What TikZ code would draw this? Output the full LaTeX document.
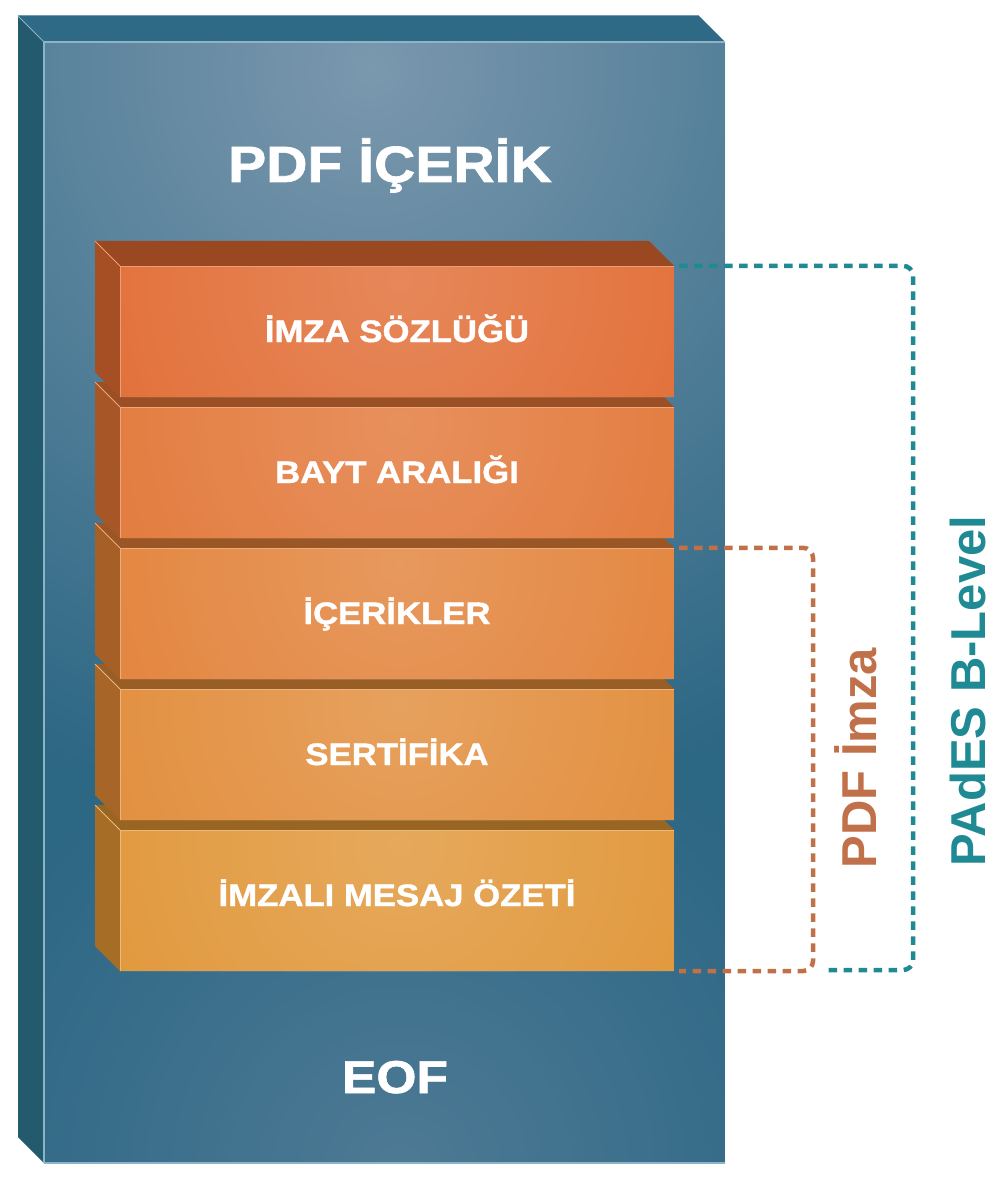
\documentclass[tikz,border=0pt]{standalone}
\usepackage{fontspec}
\usetikzlibrary{fadings}
\setmainfont{Liberation Sans}
\newfontfamily\wfont[FakeStretch=1.12,FakeBold=1.3]{Liberation Sans}
\definecolor{slabbase}{HTML}{2C6784}
\definecolor{slabhi}{HTML}{7B98AE}
\definecolor{slablow}{HTML}{4E7A95}
\definecolor{slabtop}{HTML}{2E6985}
\definecolor{slableft}{HTML}{235A6E}
\definecolor{slabline}{HTML}{8DB3C6}
\definecolor{bone}{HTML}{E16A31}
\definecolor{btwo}{HTML}{E27535}
\definecolor{bthree}{HTML}{E28036}
\definecolor{bfour}{HTML}{E18A36}
\definecolor{bfive}{HTML}{E09434}
\definecolor{tealc}{HTML}{1F8A93}
\definecolor{brownc}{HTML}{C0714A}
\tikzfading[name=glowfade, inner color=transparent!0, outer color=transparent!100]
\tikzset{
  bigtext/.style={text=white, anchor=base, inner sep=0pt, font=\wfont\bfseries\fontsize{51}{51}\selectfont},
  bricktext/.style={text=white, anchor=base, inner sep=0pt, font=\wfont\bfseries\fontsize{31}{31}\selectfont},
  sidetext/.style={rotate=90, anchor=base, inner sep=0pt, font=\bfseries\fontsize{49}{49}\selectfont},
  brickfront/.style={rectangle, inner sep=0pt, minimum width=554pt},
  dashline/.style={line width=4.5pt, dash pattern=on 8.5pt off 6.5pt, rounded corners=10pt}
}
\begin{document}
\begin{tikzpicture}[x=1pt,y=-1pt]
\useasboundingbox (0,0) rectangle (1003,1190);
% ---- slab ----
\fill[slabtop] (18,16) -- (699,16) -- (725,42) -- (44,42) -- cycle;
\fill[slableft] (18,16) -- (44,42) -- (44,1163) -- (18,1137) -- cycle;
\begin{scope}
  \clip (44,42) rectangle (725,1163);
  \fill[slabbase] (44,42) rectangle (725,1163);
  \fill[slabhi, path fading=glowfade] (370,70) circle (760);
  \fill[slablow, path fading=glowfade] (400,1170) circle (480);
\end{scope}
\draw[slabline, line width=1.2pt] (44,1163) -- (44,42) -- (725,42);
\draw[slabline, line width=1pt] (18,16) -- (44,42);
\draw[slabline!70!slabtop, line width=1pt] (18,16) -- (699,16);
\draw[slabline, line width=1.2pt] (44,1163) -- (725,1163);
\node[bigtext] (title) at (390,182) {PDF İÇERİK};
\node[bigtext, font=\wfont\bfseries\fontsize{46}{46}\selectfont] (eof) at (395,1093) {EOF};
% ---- bricks (bottom first) ----
\foreach \i/\t/\h/\col/\txt in {
  5/830/141/bfive/İMZALI MESAJ ÖZETİ,
  4/689/131/bfour/SERTİFİKA,
  3/548/131/bthree/İÇERİKLER,
  2/407/131/btwo/BAYT ARALIĞI,
  1/266/131/bone/İMZA SÖZLÜĞÜ}{
  \fill[\col!74!black] (95,\t-25) -- (120,\t) -- (120,\t+\h) -- (95,\t+\h-25) -- cycle;
  \fill[\col!68!black] (95,\t-25) -- (649,\t-25) -- (674,\t) -- (120,\t) -- cycle;
  \begin{scope}
    \clip (120,\t) rectangle (674,\t+\h);
    \fill[\col] (120,\t) rectangle (674,\t+\h);
    \fill[white, opacity=0.2, path fading=glowfade] (400,\t+15) circle (420);
  \end{scope}
  \draw[\col!65!white, line width=1pt] (120,\t+\h) -- (120,\t) -- (674,\t);
  \draw[\col!65!white, line width=0.8pt] (95,\t-25) -- (120,\t);
  \node[brickfront, minimum height=\h pt] (b\i) at (397,\t+\h/2) {};
  \node[bricktext] (t\i) at (397,\t+76) {\txt};
}
% ---- brackets ----
\coordinate (tcorner) at (913,970);
\coordinate (tend) at (828,970);
\coordinate (bcorner) at (813,971);
\draw[dashline, tealc] ([xshift=5pt]b1.north east) -| (tcorner) -- (tend);
\draw[dashline, brownc] ([xshift=5pt]b3.north east) -| (bcorner) -- ([xshift=5pt]b5.south east);
\node[sidetext, text=brownc] (pdfimza) at (876,758) {PDF İmza};
\node[sidetext, text=tealc] (pades) at (985,691) {PAdES B-Level};
\end{tikzpicture}
\end{document}
